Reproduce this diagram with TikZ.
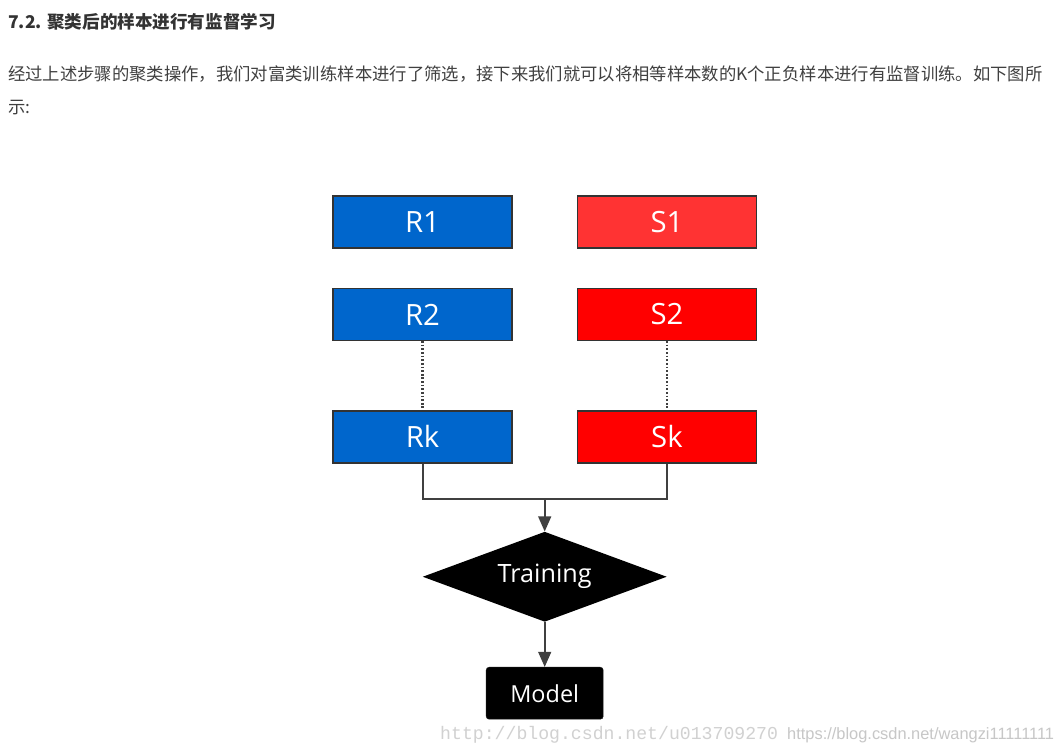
\documentclass[tikz,border=0pt]{standalone}
\usepackage{fontspec}
\usetikzlibrary{positioning,shapes.geometric,arrows.meta,calc}
\newfontfamily\cjk{Noto Sans CJK SC}
\newfontfamily\boxfont{Open Sans}
\newfontfamily\wmmono{Liberation Mono}
\newfontfamily\wmsans{Liberation Sans}
\definecolor{rblue}{HTML}{0066CC}
\definecolor{slight}{HTML}{FF3333}
\definecolor{sred}{HTML}{FF0000}
\definecolor{edgegray}{HTML}{333333}
\definecolor{linegray}{HTML}{404040}

\begin{document}
\begin{tikzpicture}[node distance=1.17cm and 1.92cm,
    sample/.style={draw=edgegray, line width=1.2pt, rectangle, minimum width=5.37cm, minimum height=1.56cm, text=white, font=\boxfont\fontsize{25}{30}\selectfont},
    link/.style={draw=linegray, line width=1.7pt},
    gap/.style={draw=linegray, line width=1.8pt, dash pattern=on 1.5pt off 1.6pt}]
        \useasboundingbox[fill=white] (0,0) rectangle (31.89,-22.44);

        % page text
        \node[anchor=west, inner sep=0pt, text=edgegray, font=\cjk\bfseries\fontsize{15}{18}\selectfont] (title) at (0.24,-0.66) {7.2. 聚类后的样本进行有监督学习};
        \node[anchor=west, inner sep=0pt, text=linegray, font=\cjk\fontsize{14.8}{18}\selectfont] (line1) at (0.24,-2.22) {经过上述步骤的聚类操作，我们对富类训练样本进行了筛选，接下来我们就可以将相等样本数的K个正负样本进行有监督训练。如下图所};
        \node[anchor=west, inner sep=0pt, text=linegray, font=\cjk\fontsize{14.8}{18}\selectfont] (line2) at (0.24,-3.24) {示:};

        % samples
        \node[sample, fill=rblue] (r1) at (12.675,-6.66) {R1};
        \node[sample, fill=slight, right=of r1] (s1) {S1};
        \node[sample, fill=rblue, below=of r1] (r2) {R2};
        \node[sample, fill=sred, right=of r2] (s2) {S2};
        \node[sample, fill=rblue, below=2.07cm of r2] (rk) {Rk};
        \node[sample, fill=sred, right=of rk] (sk) {Sk};

        \coordinate (join) at ($(rk.south)!0.5!(sk.south)+(0,-1.05)$);

        \node[diamond, shape aspect=2.71, fill=black, inner sep=0pt, minimum width=7.32cm, minimum height=2.7cm, text=white, font=\boxfont\fontsize{21.5}{25}\selectfont, below=0.99cm of join] (train) {Training};
        \node[rectangle, draw=black!90, fill=black, rounded corners=2.5pt, minimum width=3.51cm, minimum height=1.56cm, text=white, font=\boxfont\fontsize{20}{24}\selectfont, below=1.35cm of train] (model) {Model};

        \draw[gap] (r2) -- (rk);
        \draw[gap] (s2) -- (sk);

        \draw[link] (rk.south) |- (join) -| (sk.south);
        \draw[link, -{Triangle[width=11pt, length=13pt]}] (join) -- (train);
        \draw[link, -{Triangle[width=11pt, length=13pt]}] (train) -- (model);

        % watermark
        \node[anchor=base west, inner sep=0pt, text=black!18, font=\wmmono\fontsize{15.5}{18}\selectfont] (mark1) at (13.2,-22.17) {http://blog.csdn.net/u013709270};
        \node[anchor=base west, inner sep=0pt, text=black!22, font=\wmsans\fontsize{14}{17}\selectfont] (mark2) at (23.61,-22.17) {https://blog.csdn.net/wangzi11111111};
    \end{tikzpicture}
\end{document}
